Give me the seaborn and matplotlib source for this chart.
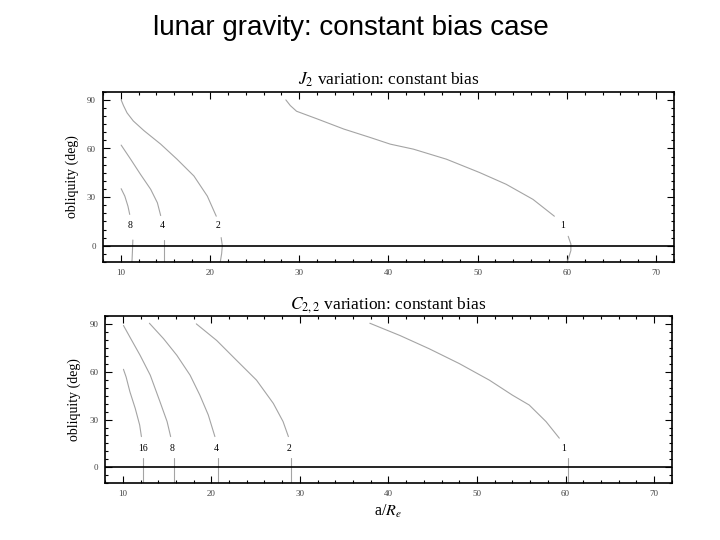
import matplotlib
matplotlib.use("Agg")
import matplotlib.pyplot as plt
import seaborn as sns
import pandas as pd
from matplotlib.ticker import MultipleLocator

# ---------------- data ----------------
# J2 panel: upper and lower branches of each constant-bias curve (label = bias factor)
j2_labels = ["8", "4", "2", "1"]
j2_upper_x = {
    "8": [10.04, 10.45, 10.8, 11.0],
    "4": [10.04, 11.1, 12.2, 13.35, 14.1, 14.47],
    "2": [10.04, 10.3, 10.7, 11.4, 12.6, 14.47, 16.3, 18.2, 19.7, 20.7],
    "1": [28.5, 29.0, 29.7, 32.0, 35.0, 37.9, 40.2, 42.8, 46.5, 50.2, 53.2, 56.2, 58.6],
}
j2_upper_y = {
    "8": [35.2, 30.6, 24.4, 19.3],
    "4": [62.1, 53.4, 44.1, 34.8, 26.5, 18.6],
    "2": [90.0, 86.5, 82.0, 77.0, 71.0, 62.7, 53.4, 43.0, 30.6, 18.2],
    "1": [90.0, 86.5, 83.0, 78.3, 72.0, 66.9, 62.7, 59.6, 53.4, 45.2, 37.9, 28.6, 18.2],
}
j2_lower_x = {
    "8": [11.35, 11.3, 11.25],
    "4": [14.85, 14.85, 14.85],
    "2": [21.25, 21.38, 21.3, 21.15],
    "1": [60.15, 60.45, 60.45, 60.05],
}
j2_lower_y = {
    "8": [3.5, -4.0, -10.0],
    "4": [3.5, -4.0, -10.0],
    "2": [5.0, 0.0, -5.0, -10.0],
    "1": [5.8, 1.0, -3.0, -10.0],
}
j2_label_x = [11.0, 14.6, 20.95, 59.5]
j2_label_y = [12.6, 12.6, 12.6, 12.6]

# C22 panel
c22_labels = ["16", "8", "4", "2", "1"]
c22_upper_x = {
    "16": [10.07, 10.37, 10.8, 11.4, 11.9, 12.1],
    "8": [10.07, 10.8, 11.95, 13.1, 14.2, 15.0, 15.4],
    "4": [13.0, 14.6, 16.1, 17.6, 18.7, 19.65, 20.4],
    "2": [18.3, 20.6, 22.85, 25.1, 27.0, 28.1, 28.7],
    "1": [37.9, 39.0, 41.3, 44.6, 48.0, 51.4, 54.0, 55.9, 57.8, 59.3],
}
c22_upper_y = {
    "16": [61.5, 56.7, 47.4, 37.0, 26.6, 19.3],
    "8": [89.0, 81.7, 70.3, 57.8, 41.1, 28.7, 19.3],
    "4": [90.4, 80.7, 70.3, 57.8, 45.3, 32.9, 19.3],
    "2": [90.0, 79.6, 67.1, 54.7, 40.1, 28.7, 19.3],
    "1": [90.4, 87.9, 82.7, 74.4, 65.1, 54.7, 45.3, 39.1, 28.7, 18.3],
}
c22_lower_x = {
    "16": [12.3, 12.3],
    "8": [15.75, 15.75],
    "4": [20.7, 20.7],
    "2": [29.0, 29.0],
    "1": [60.3, 60.3],
}
c22_lower_y = {
    "16": [5.8, -10.0],
    "8": [5.8, -10.0],
    "4": [5.8, -10.0],
    "2": [5.8, -10.0],
    "1": [5.8, -10.0],
}
c22_label_x = [12.25, 15.55, 20.5, 28.8, 59.8]
c22_label_y = [12.0, 12.0, 12.0, 12.0, 12.0]

x_ticks = [10, 20, 30, 40, 50, 60, 70]
y_ticks = [0, 30, 60, 90]

main_title = "lunar gravity: constant bias case"
j2_title = r"$J_2$ variation: constant bias"
c22_title = r"$C_{2,2}$ variation: constant bias"
y_label = "obliquity (deg)"
x_label = r"a/$R_e$"


def build_df(labels, ux, uy, lx, ly):
    rows = []
    for lab in labels:
        for xv, yv in zip(ux[lab], uy[lab]):
            rows.append({"x": xv, "y": yv, "seg": lab + "_u"})
        for xv, yv in zip(lx[lab], ly[lab]):
            rows.append({"x": xv, "y": yv, "seg": lab + "_l"})
    return pd.DataFrame(rows)


df_j2 = build_df(j2_labels, j2_upper_x, j2_upper_y, j2_lower_x, j2_lower_y)
df_c22 = build_df(c22_labels, c22_upper_x, c22_upper_y, c22_lower_x, c22_lower_y)

# ---------------- style ----------------
sns.set_theme(style="ticks")
plt.rcParams["font.family"] = ["Liberation Serif", "DejaVu Serif"]
plt.rcParams["mathtext.fontset"] = "stix"
plt.rcParams["text.color"] = "black"
plt.rcParams["axes.labelcolor"] = "black"
plt.rcParams["axes.titlecolor"] = "black"

fig = plt.figure(figsize=(7.2, 5.4), dpi=100)
fig.patch.set_facecolor("white")

ax1 = fig.add_axes([0.143, 0.515, 0.793, 0.315])
ax2 = fig.add_axes([0.146, 0.105, 0.787, 0.310])

curve_color = "#a4a4a4"


def style_panel(ax, df, labels, lab_x, lab_y, title):
    sns.lineplot(data=df, x="x", y="y", units="seg", estimator=None, sort=False,
                 color=curve_color, linewidth=0.8, ax=ax, legend=False)
    ax.axhline(0, color="black", linewidth=1.2, zorder=3)
    for lab, xv, yv in zip(labels, lab_x, lab_y):
        ax.text(xv, yv, lab, ha="center", va="center", fontsize=7, color="black")
    ax.set_xlim(8, 72)
    ax.set_ylim(-10, 95)
    ax.set_xticks(x_ticks)
    ax.set_yticks(y_ticks)
    ax.xaxis.set_minor_locator(MultipleLocator(2))
    ax.yaxis.set_minor_locator(MultipleLocator(5))
    ax.tick_params(which="both", direction="in", top=True, right=True,
                   labelsize=6.5, labelcolor="#444444", color="black", width=0.8)
    ax.tick_params(which="major", length=5, pad=5)
    ax.tick_params(which="minor", length=2.5)
    for s in ax.spines.values():
        s.set_visible(True)
        s.set_linewidth(1.2)
        s.set_color("black")
    ax.set_title(title, fontsize=12.5, pad=5)
    ax.set_ylabel(y_label, fontsize=10, labelpad=6)
    ax.set_xlabel("")


style_panel(ax1, df_j2, j2_labels, j2_label_x, j2_label_y, j2_title)
style_panel(ax2, df_c22, c22_labels, c22_label_x, c22_label_y, c22_title)
ax2.set_xlabel(x_label, fontsize=11.5, labelpad=3)

fig.text(0.487, 0.948, main_title, ha="center", va="center", fontsize=20,
         color="black", family=["Liberation Sans", "DejaVu Sans"])

fig.savefig("out.png", dpi=100, facecolor="white")
